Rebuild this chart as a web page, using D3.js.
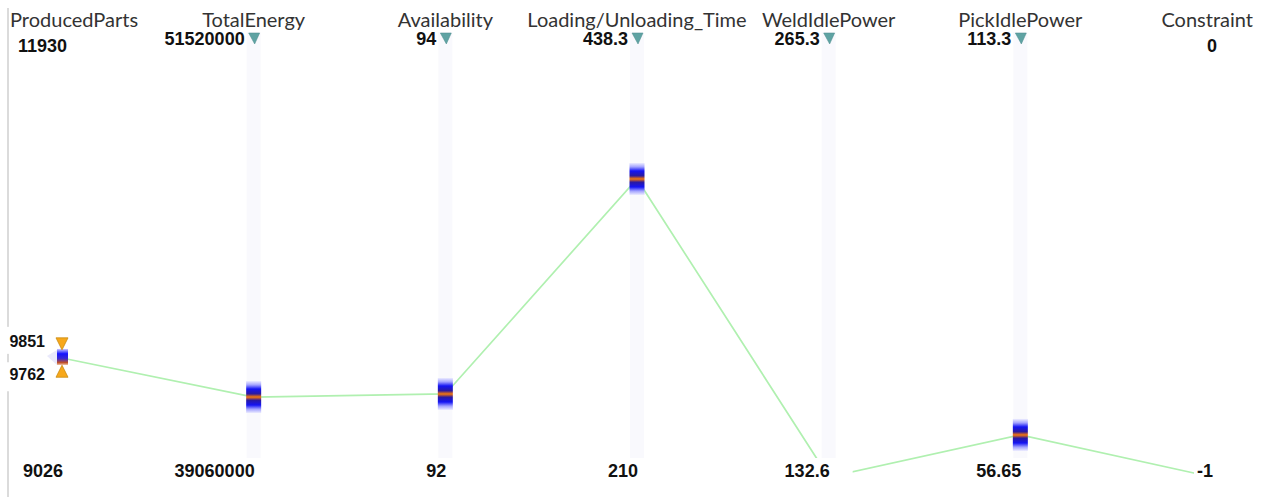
<!DOCTYPE html>
<html>
<head>
<meta charset="utf-8">
<script src="https://cdn.jsdelivr.net/npm/d3@7"></script>
<style>
  body { margin: 0; background: #fff; }
  svg { display: block; }
</style>
</head>
<body>
<svg id="chart"></svg>
<script>
// dimensions of the parallel plot
const dimensions = ["ProducedParts", "TotalEnergy", "Availability", "Loading/Unloading_Time",
      "WeldIdlePower", "PickIdlePower", "Constraint"];
const maxValues = [11930, 51520000, 94, 438.3, 265.3, 113.3, 0];
const minValues = [9026, 39060000, 92, 210, 132.6, 56.65, -1];
const maxLabels = ["11930", "51520000", "94", "438.3", "265.3", "113.3", "0"];
const minLabels = ["9026", "39060000", "92", "210", "132.6", "56.65", "-1"];
// objectives to minimise get the little triangle
const minimize = [false, true, true, true, true, true, false];
// the one solution shown
const solution = [9817, 41340000, 92.38, 365.7, 132.6, 62.1, -1];
// brush on ProducedParts
const brushRange = [9762, 9851];

const WIDTH = 1267;
const HEIGHT = 497;
const MARGIN = { top: 40, bottom: 20, left: 62, right: 55 };

const svg = d3.select("#chart")
      .attr("width", WIDTH)
      .attr("height", HEIGHT);

const xScale = d3.scalePoint()
      .domain(dimensions)
      .range([MARGIN.left, WIDTH - MARGIN.right]);

const yScales = dimensions.map((d, i) => d3.scaleLinear()
      .domain([minValues[i], maxValues[i]])
      .range([HEIGHT - MARGIN.bottom, MARGIN.top]));

const defs = svg.append("defs");

// density marker gradient (blue - orange - blue)
const grad = defs.append("linearGradient")
      .attr("id", "density")
      .attr("x1", 0).attr("y1", 0).attr("x2", 0).attr("y2", 1);
[[0, "#ececff"], [0.12, "#a4a4ff"], [0.25, "#1414f4"], [0.4, "#2a1aa0"],
[0.47, "#c05a30"], [0.5, "#f07a10"], [0.53, "#c05a30"], [0.6, "#2a1aa0"],
[0.75, "#1414f4"], [0.88, "#a4a4ff"], [1, "#ececff"]].forEach(s => {
      grad.append("stop").attr("offset", s[0]).attr("stop-color", s[1]);
});

const grad2 = defs.append("linearGradient")
      .attr("id", "density-small")
      .attr("x1", 0).attr("y1", 0).attr("x2", 0).attr("y2", 1);
[[0, "#c8c8ff"], [0.3, "#1414ff"], [0.6, "#3a2ad0"], [0.85, "#c05028"], [1, "#f0c0a0"]].forEach(s => {
      grad2.append("stop").attr("offset", s[0]).attr("stop-color", s[1]);
});

// left border line
svg.append("line")
      .attr("x1", 8).attr("x2", 8)
      .attr("y1", 8).attr("y2", HEIGHT)
      .style("stroke", "#cfcfcf")
      .style("stroke-width", 1.5);

// faint axis bands
svg.selectAll(".band")
      .data(dimensions.filter((d, i) => minimize[i]))
      .enter()
      .append("rect")
      .attr("class", "band")
      .attr("x", d => xScale(d) - 7)
      .attr("y", 32)
      .attr("width", 14)
      .attr("height", HEIGHT - 40)
      .style("fill", "#f9f9fd");

// the solution line
const line = d3.line()
      .x(d => xScale(d.dim))
      .y(d => yScales[d.i](d.v));

const points = dimensions.map((dim, i) => ({ dim, i, v: solution[i] }));

svg.append("path")
      .datum(points)
      .attr("d", line)
      .style("fill", "none")
      .style("stroke", "#b0f0b0")
      .style("stroke-width", 1.7);

// density markers
svg.selectAll(".marker")
      .data(points.slice(1))
      .enter()
      .append("rect")
      .attr("class", "marker")
      .attr("x", d => xScale(d.dim) - 7.5)
      .attr("y", d => yScales[d.i](d.v) - 16)
      .attr("width", 15)
      .attr("height", 32)
      .style("fill", "url(#density)");

// small marker on the brushed axis
const p0 = points[0];
const x0 = xScale(p0.dim);
const y0 = yScales[0](p0.v);
svg.append("path")
      .attr("d", `M ${x0 - 5} ${y0 - 8} L ${x0 - 15} ${y0 - 2} L ${x0 - 5} ${y0 + 7} Z`)
      .style("fill", "#e3e3fa")
      .style("opacity", 0.8);
svg.append("rect")
      .attr("x", x0 - 5)
      .attr("y", y0 - 9)
      .attr("width", 11)
      .attr("height", 16)
      .style("fill", "url(#density-small)");

// brush triangles
const yb1 = yScales[0](brushRange[1]);
const yb0 = yScales[0](brushRange[0]);
svg.append("path")
      .attr("d", `M ${x0 - 6} ${yb1 - 15} L ${x0 + 6} ${yb1 - 15} L ${x0} ${yb1 - 3} Z`)
      .style("fill", "#f7a81b")
      .style("stroke", "#c98a10")
      .style("stroke-width", 0.8);
svg.append("path")
      .attr("d", `M ${x0 - 6} ${yb0 + 11} L ${x0 + 6} ${yb0 + 11} L ${x0} ${yb0 - 1} Z`)
      .style("fill", "#f7a81b")
      .style("stroke", "#c98a10")
      .style("stroke-width", 0.8);

// label helper with white background
function addLabel(x, y, text, anchor, size, padL, padR, padT, padB) {
      const g = svg.append("g");
      const rect = g.append("rect").style("fill", "#fff");
      const t = g.append("text")
            .attr("x", x)
            .attr("y", y)
            .attr("text-anchor", anchor)
            .style("font-family", "'Liberation Sans', Arial, sans-serif")
            .style("font-weight", "bold")
            .style("font-size", size + "px")
            .style("fill", "#111")
            .text(text);
      const bb = t.node().getBBox();
      rect.attr("x", bb.x - padL)
            .attr("y", bb.y - padT)
            .attr("width", bb.width + padL + padR)
            .attr("height", bb.height + padT + padB);
}

// brush labels
addLabel(x0 - 17, yb1 - 6, String(brushRange[1]), "end", 16, 10, 2, 6, 4);
addLabel(x0 - 17, yb0 + 14, String(brushRange[0]), "end", 16, 10, 2, 4, 8);

// min labels
dimensions.forEach((d, i) => {
      addLabel(xScale(d) + 1, HEIGHT - MARGIN.bottom, minLabels[i], "end", 18, 3, 23, 3, 16);
});

// max labels
dimensions.forEach((d, i) => {
      if (minimize[i]) {
            addLabel(xScale(d) - 9, 45, maxLabels[i], "end", 18, 3, 1, 2, 2);
      } else {
            addLabel(xScale(d) + 5, 52, maxLabels[i], "end", 18, 3, 3, 2, 2);
      }
});

// triangles for minimised objectives
svg.selectAll(".tri")
      .data(dimensions.filter((d, i) => minimize[i]))
      .enter()
      .append("path")
      .attr("class", "tri")
      .attr("d", d => `M ${xScale(d) - 5} 33 L ${xScale(d) + 6} 33 L ${xScale(d) + 1} 44 Z`)
      .style("fill", "#5fa3a3")
      .style("stroke", "#4d8d8d")
      .style("stroke-width", 0.5);

// titles
svg.selectAll(".title")
      .data(dimensions)
      .enter()
      .append("text")
      .attr("class", "title")
      .attr("y", 27)
      .style("font-family", "Lato, 'Open Sans', sans-serif")
      .style("font-size", "20px")
      .style("fill", "#333")
      .text(d => d)
      .each(function (d) {
            const w = this.getComputedTextLength();
            let x = xScale(d) - w / 2;
            x = Math.max(10, Math.min(WIDTH - 14 - w, x));
            d3.select(this).attr("x", x);
      });
</script>
</body>
</html>
